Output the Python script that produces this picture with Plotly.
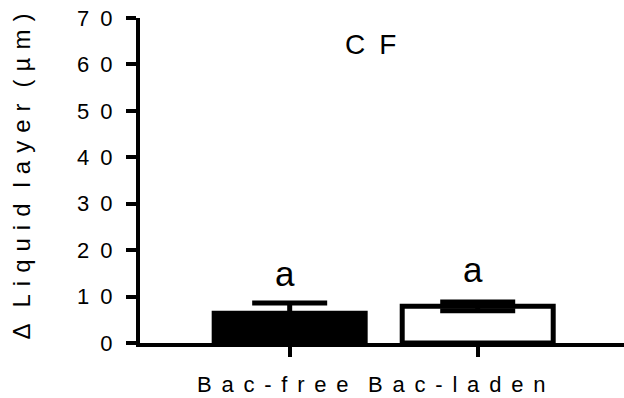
import plotly.graph_objects as go

# ---- data ----
categories = ["Bac-free", "Bac-laden"]
means = [6.4, 7.9]
errors = [2.2, 0.95]
bar_colors = ["black", "white"]
sig_letters = ["a", "a"]
letter_heights = [15.0, 15.8]
y_ticks = [0, 10, 20, 30, 40, 50, 60, 70]
panel_title = "CF"
y_title = "\u0394 Liquid layer (\u00b5m)"

EN = "\u2002"   # wide letter spacing like the original
TPM = "\u2004"
MID = "\u00a0\u2006"


def spaced(s, sep=EN, wsep=None):
    if wsep is None:
        wsep = sep + sep
    return wsep.join(sep.join(list(w)) for w in s.split(" "))


FONT = "Arial, 'Liberation Sans', sans-serif"
xpos = list(range(len(categories)))

fig = go.Figure()
fig.add_trace(go.Bar(
    x=xpos, y=means, width=0.803,
    marker=dict(color=bar_colors, line=dict(color="black", width=5)),
    error_y=dict(type="data", array=errors, visible=True,
                 color="black", thickness=5, width=37.5),
    showlegend=False, hoverinfo="skip",
))

for xi, (lab, ly) in enumerate(zip(sig_letters, letter_heights)):
    fig.add_annotation(x=xi, y=ly, text=lab, showarrow=False,
                       xshift=-5, yanchor="middle",
                       font=dict(family=FONT, size=35, color="black"))

# panel title
fig.add_annotation(xref="paper", yref="paper", x=0.477, y=0.917,
                   text=spaced(panel_title), showarrow=False,
                   xanchor="center", yanchor="middle",
                   font=dict(family=FONT, size=28, color="black"))
# x title (categories)
fig.add_annotation(xref="paper", yref="paper", x=0.478, y=-0.128,
                   text=spaced(" ".join(categories), MID, MID + MID),
                   showarrow=False, xanchor="center", yanchor="middle",
                   font=dict(family=FONT, size=22, color="black"))
# y title
fig.add_annotation(xref="paper", yref="paper", x=-0.2438, y=0.512,
                   text=spaced(y_title, TPM, TPM + TPM), showarrow=False,
                   textangle=-90, xanchor="center", yanchor="middle",
                   font=dict(family=FONT, size=24, color="black"))

fig.update_layout(
    width=624, height=398,
    margin=dict(l=140, r=0, t=18, b=55),
    paper_bgcolor="white", plot_bgcolor="white",
    xaxis=dict(range=[-0.796, 1.778], tickvals=xpos, ticktext=["", ""],
               showticklabels=False, ticks="outside", ticklen=10, tickwidth=4,
               tickcolor="black", showline=True, linecolor="black", linewidth=4,
               showgrid=False, zeroline=False),
    yaxis=dict(range=[0, 70], tickvals=y_ticks,
               ticktext=[spaced(str(v)) for v in y_ticks],
               ticks="outside", ticklen=10, tickwidth=4, tickcolor="black",
               showline=True, linecolor="black", linewidth=4,
               showgrid=False, zeroline=False, ticklabelstandoff=9,
               tickfont=dict(family=FONT, size=22, color="black")),
)

fig.write_html("out.html",
               config={"displayModeBar": False, "staticPlot": True},
               post_script="document.body.style.margin='0';"
                           "document.body.style.overflow='hidden';"
                           "document.documentElement.style.overflow='hidden';")
